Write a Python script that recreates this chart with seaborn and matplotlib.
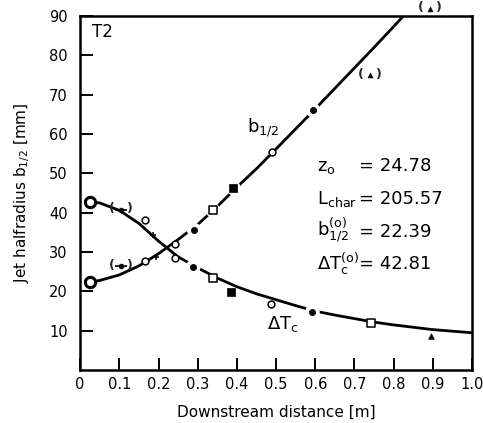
import matplotlib
matplotlib.use("Agg")
import matplotlib.pyplot as plt
import pandas as pd
import seaborn as sns

# Fitted curves, downstream distance in m
b_curve_x = [0.025, 0.05, 0.10, 0.15, 0.20, 0.25, 0.30, 0.35, 0.40, 0.45,
             0.50, 0.55, 0.60, 0.65, 0.70, 0.75, 0.80, 0.825]
b_curve_y = [22.4, 22.8, 24.2, 26.5, 29.6, 33.2, 37.0, 41.6, 46.5, 51.2,
             56.2, 61.3, 66.4, 71.6, 76.8, 82.0, 87.3, 90.0]
dt_curve_x = [0.025, 0.05, 0.10, 0.15, 0.20, 0.25, 0.30, 0.35, 0.40, 0.45,
              0.50, 0.55, 0.60, 0.65, 0.70, 0.75, 0.80, 0.85, 0.90, 0.95, 1.00]
dt_curve_y = [42.8, 42.5, 40.6, 37.3, 32.8, 28.8, 26.0, 23.4, 21.2, 19.4,
              17.9, 16.4, 15.0, 14.0, 13.1, 12.2, 11.5, 10.9, 10.3, 9.9, 9.5]

# Measured jet half-radius b1/2 [mm]
b_x = [0.104, 0.166, 0.193, 0.242, 0.291, 0.339, 0.391, 0.490, 0.594, 0.739, 0.893]
b_y = [26.4, 27.7, 28.7, 32.1, 35.6, 40.6, 46.3, 55.5, 66.1, 74.9, 91.9]
b_sym = ["pdot", "open_o", "plus", "open_o", "dot", "open_s", "fill_s",
         "open_o", "dot", "ptri", "ptri"]

# Measured centreline temperature excess
dt_x = [0.104, 0.166, 0.187, 0.243, 0.289, 0.340, 0.386, 0.486, 0.593, 0.742, 0.895]
dt_y = [40.8, 38.1, 34.3, 28.5, 26.3, 23.3, 19.9, 16.8, 14.8, 12.0, 8.8]
dt_sym = ["pdot", "open_o", "plus", "open_o", "dot", "open_s", "fill_s",
          "open_o", "dot", "open_s", "fill_tri"]

# Points that sit on the curve with a white break around them
b_break = [0.291, 0.339, 0.391, 0.594]
dt_break = [0.289, 0.593]

# Fit parameters
z0 = 0.02478
l_char = 205.57
b0 = 22.39
dt0 = 42.81

x_ticks = [0, 0.1, 0.2, 0.3, 0.4, 0.5, 0.6, 0.7, 0.8, 0.9, 1.0]
x_ticklabels = ["0", "0.1", "0.2", "0.3", "0.4", "0.5", "0.6", "0.7", "0.8", "0.9", "1.0"]
y_ticks = [10, 20, 30, 40, 50, 60, 70, 80, 90]

sns.set_theme(style="white")
plt.rcParams["font.family"] = ["DejaVu Sans"]
plt.rcParams["mathtext.default"] = "regular"

fig = plt.figure(figsize=(4.83, 4.23), dpi=100)
ax = fig.add_axes([0.166, 0.125, 0.811, 0.837])

lw = 2.0
sns.lineplot(x=b_curve_x, y=b_curve_y, ax=ax, color="black", lw=lw,
             sort=False, zorder=2)
sns.lineplot(x=dt_curve_x, y=dt_curve_y, ax=ax, color="black", lw=lw,
             sort=False, zorder=2)

# white breaks in the curves around on-curve points
brk = pd.DataFrame({
    "x": b_break + dt_break,
    "y": [b_y[b_x.index(v)] for v in b_break] + [dt_y[dt_x.index(v)] for v in dt_break],
})
sns.scatterplot(data=brk, x="x", y="y", ax=ax, s=110, color="white",
                edgecolor="none", zorder=3)

styles = {
    "dot": dict(marker="o", s=20, color="black", edgecolor="black", linewidth=0.5),
    "open_o": dict(marker="o", s=24, color="white", edgecolor="black", linewidth=1.1),
    "open_s": dict(marker="s", s=26, color="white", edgecolor="black", linewidth=1.1),
    "fill_s": dict(marker="s", s=26, color="black", edgecolor="black", linewidth=0.5),
    "plus": dict(marker="+", s=24, color="black", linewidth=1.1),
    "fill_tri": dict(marker="^", s=16, color="black", edgecolor="black", linewidth=0.5),
    "pdot": dict(marker="o", s=12, color="black", edgecolor="black", linewidth=0.5),
    "ptri": dict(marker="^", s=12, color="black", edgecolor="black", linewidth=0.5),
}

pts = pd.DataFrame({"x": b_x + dt_x, "y": b_y + dt_y, "sym": b_sym + dt_sym})
for sym, grp in pts.groupby("sym"):
    sns.scatterplot(data=grp, x="x", y="y", ax=ax, zorder=5, clip_on=False,
                    **styles[sym])
    if sym in ("pdot", "ptri"):
        for x, y in zip(grp["x"], grp["y"]):
            for dx, ch in ((-6.5, "("), (6.5, ")")):
                ax.annotate(ch, (x, y), xytext=(dx, 0.5), textcoords="offset points",
                            ha="center", va="center", fontsize=9,
                            fontweight="bold", annotation_clip=False)
            if sym == "pdot":
                ax.plot([x], [y], marker="_", ms=8, mew=1.2, color="black",
                        zorder=5)

# virtual-origin values
sns.scatterplot(x=[z0, z0], y=[b0, dt0], ax=ax, marker="o", s=55,
                color="white", edgecolor="black", linewidth=2.2, zorder=6,
                clip_on=False)

ax.set_xlim(0, 1.0)
ax.set_ylim(0, 90)
ax.set_xticks(x_ticks)
ax.set_xticklabels(x_ticklabels)
ax.set_yticks(y_ticks)
ax.tick_params(axis="both", direction="in", color="black", labelcolor="black",
               labelsize=10.5, width=1.4, bottom=True, left=True,
               top=False, right=False)
ax.tick_params(axis="x", length=9, pad=5)
ax.tick_params(axis="y", length=9, pad=9)
for sp in ax.spines.values():
    sp.set_visible(True)
    sp.set_color("black")
    sp.set_linewidth(1.8)

ax.set_xlabel("Downstream distance [m]", fontsize=11, color="black", labelpad=9)
ax.set_ylabel("Jet halfradius b$_{1/2}$ [mm]", fontsize=11, color="black",
              labelpad=12)

ax.text(0.03, 88.2, "T2", fontsize=12, ha="left", va="top", color="black")
ax.text(0.427, 60.5, "b$_{1/2}$", fontsize=13, ha="left", va="baseline", color="black")
ax.text(0.477, 10.5, "$\\Delta$T$_c$", fontsize=13, ha="left", va="baseline",
        color="black")

ann_x = 0.605
eq_x = 0.712
rows = [
    ("z$_o$", 50.5, f"= {z0 * 1000:.2f}"),
    ("L$_{char}$", 42.2, f"= {l_char:.2f}"),
    ("b$_{1/2}^{(o)}$", 33.9, f"= {b0:.2f}"),
    ("$\\Delta$T$_c^{(o)}$", 25.6, f"= {dt0:.2f}"),
]
for name, yy, val in rows:
    ax.text(ann_x, yy, name, fontsize=13, ha="left", va="baseline", color="black")
    ax.text(eq_x, yy, val, fontsize=13, ha="left", va="baseline", color="black")

fig.savefig("out.png", dpi=100, facecolor="white")
